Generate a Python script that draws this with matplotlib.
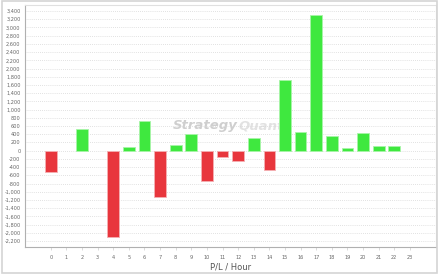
import numpy as np
import matplotlib.pyplot as plt
from matplotlib.patches import Rectangle
from matplotlib.ticker import FuncFormatter

# P/L per hour of day
hours = list(range(24))
pl = [-520, 0, 520, 0, -2100, 100, 730, -1130, 150, 415, -745, -150, -245, 310,
      -465, 1720, 450, 3300, 360, 75, 440, 105, 115, 0]

green = '#3fe83f'
red = '#e8363d'

fig = plt.figure(figsize=(4.38, 2.75), dpi=100)
fig.patches.append(Rectangle((0.004, 0.006), 0.994, 0.99, transform=fig.transFigure,
                             fill=False, edgecolor='#d4d4d4', linewidth=1.2))

ax = fig.add_axes([0.0564, 0.1018, 0.939, 0.8812])

colors = [green if v >= 0 else red for v in pl]
edges = ['none' if v == 0 else ('#a8f5a8' if v > 0 else '#f5b0b3') for v in pl]
ax.bar(hours, pl, width=0.75, color=colors, edgecolor=edges, linewidth=0.6, zorder=3)

ax.set_xlim(-1.67, 24.67)
ax.set_ylim(-2345, 3555)
ax.set_yticks(np.arange(-2200, 3401, 200))
ax.yaxis.set_major_formatter(FuncFormatter(lambda v, p: f"{int(v):,}"))
ax.set_xticks(hours)

ax.grid(axis='y', linestyle=(0, (1, 1.5)), color='#d8d8d8', linewidth=0.6, zorder=0)

ax.tick_params(axis='y', length=0, labelsize=3.6, labelcolor='#666666', pad=3)
ax.tick_params(axis='x', length=2, width=0.5, color='#cccccc', labelsize=3.6,
               labelcolor='#666666', pad=3.5)

for s in ['left', 'bottom']:
    ax.spines[s].set_color('#b0b0b0')
    ax.spines[s].set_linewidth(0.8)
for s in ['top', 'right']:
    ax.spines[s].set_color('#e0e0e0')
    ax.spines[s].set_linewidth(0.8)

ax.set_xlabel('P/L / Hour', fontsize=6, color='#555555', labelpad=2)

# watermark
ax.text(0.519, 0.50, 'Strategy', transform=ax.transAxes, fontsize=9.5, fontweight='bold',
        fontstyle='italic', color='#cfcfcf', ha='right', va='center', zorder=1)
ax.text(0.519, 0.50, 'Quant', transform=ax.transAxes, fontsize=9.5, fontweight='bold',
        fontstyle='italic', color='#e2e2e2', ha='left', va='center', zorder=1)

fig.savefig('out.png', dpi=100)
